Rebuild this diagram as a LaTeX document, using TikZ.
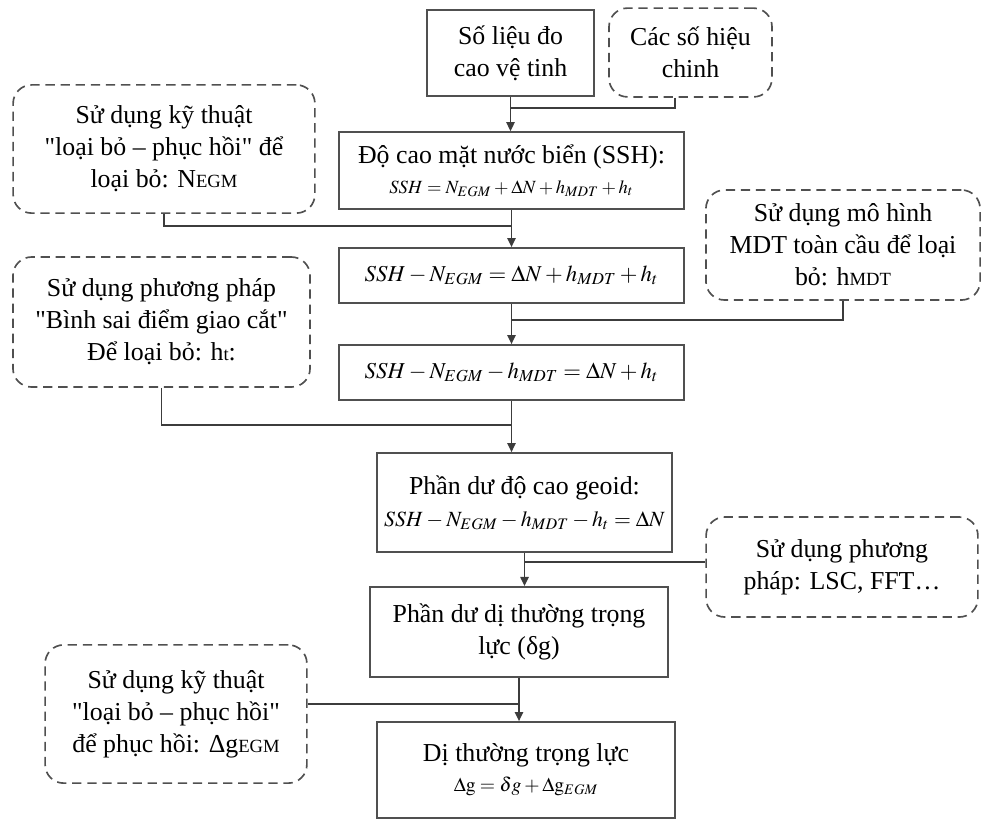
\documentclass[tikz,border=0pt]{standalone}
\usepackage{mathptmx}
\usepackage{fontspec}
\setmainfont{Liberation Serif}[Ligatures=TeXOff]
\usetikzlibrary{arrows.meta,positioning,calc}
\definecolor{lineg}{RGB}{60,60,60}
\definecolor{boxg}{RGB}{80,80,80}
\tikzset{
  procbox/.style={draw=boxg, line width=0.7pt, align=center, inner sep=2pt,
                  font=\fontsize{12.5}{15.5}\selectfont},
  notebox/.style={draw=boxg, line width=0.8pt, dash pattern=on 4.5pt off 2.8pt,
                  rounded corners=9pt, align=center, inner sep=2pt,
                  font=\fontsize{12.5}{15.5}\selectfont},
  link/.style={draw=lineg, line width=0.8pt},
  flow/.style={link, -{Triangle[length=4.4pt,width=4pt]}},
}
\newcommand{\smallsub}[1]{{\fontsize{9}{10}\selectfont #1}}
\newcommand{\eqsize}[2]{{\fontsize{#1}{#1}\selectfont #2}}

\begin{document}
\begin{tikzpicture}[x=0.017cm, y=-0.017cm]
  \useasboundingbox (0,0) rectangle (982,820);
  % main column
  \node[procbox, minimum width=2.84cm, minimum height=1.46cm] (obs) at (510.5,53)
    {Số liệu đo\\cao vệ tinh};
  \node[procbox, minimum width=5.87cm, minimum height=1.31cm] (ssh) at (511.5,170.5)
    {Độ cao mặt nước biển (SSH):\\[-1pt]
     \eqsize{9}{$SSH = N_{EGM} + \Delta N + h_{MDT} + h_t$}};
  \node[procbox, minimum width=5.87cm, minimum height=0.94cm] (resA) at (511.5,275.5)
    {\eqsize{11}{$SSH - N_{EGM} = \Delta N + h_{MDT} + h_t$}};
  \node[procbox, minimum width=5.87cm, minimum height=0.94cm] (resB) at (511.5,372.5)
    {\eqsize{11}{$SSH - N_{EGM} - h_{MDT} = \Delta N + h_t$}};
  \node[procbox, line width=0.9pt, minimum width=5.02cm, minimum height=1.68cm] (geoid) at (524.5,502.5)
    {Phần dư độ cao geoid:\\
     \eqsize{10.5}{$SSH - N_{EGM} - h_{MDT} - h_t = \Delta N$}};
  \node[procbox, line width=0.9pt, minimum width=5.07cm, minimum height=1.53cm] (dgres) at (519,632)
    {Phần dư dị thường trọng\\lực (δg)};
  \node[procbox, line width=0.9pt, minimum width=5.07cm, minimum height=1.63cm] (grav) at (526,770)
    {Dị thường trọng lực\\[-1pt]
     \eqsize{9.5}{$\Delta\mathrm{g} = \delta g + \Delta\mathrm{g}_{EGM}$}};

  % side notes
  \node[notebox, minimum width=2.77cm, minimum height=1.51cm] (corr) at (690.5,52.5)
    {Các số hiệu\\chinh};
  \node[notebox, minimum width=5.13cm, minimum height=2.18cm] (noteN) at (164,149)
    {Sử dụng kỹ thuật\\"loại bỏ – phục hồi" để\\loại bỏ: N\smallsub{EGM}};
  \node[notebox, minimum width=4.66cm, minimum height=1.87cm] (noteMDT) at (843,245)
    {Sử dụng mô hình\\MDT toàn cầu để loại\\bỏ: h\smallsub{MDT}};
  \node[notebox, minimum width=5.05cm, minimum height=2.21cm] (noteHt) at (161.5,322)
    {Sử dụng phương pháp\\"Bình sai điểm giao cắt"\\Để loại bỏ: h\smallsub{t}:};
  \node[notebox, minimum width=4.62cm, minimum height=1.7cm] (noteLSC) at (842,567)
    {Sử dụng phương\\pháp: LSC, FFT…};
  \node[notebox, minimum width=4.45cm, minimum height=2.35cm] (noteRest) at (176,714)
    {Sử dụng kỹ thuật\\"loại bỏ – phục hồi"\\để phục hồi: Δg\smallsub{EGM}};

  % connectors
  \coordinate (j1) at ($(obs.south)!0.33!(obs.south |- ssh.north)$);
  \draw[link] ([xshift=-0.26cm]corr.south) |- (j1);
  \draw[flow] (obs.south) -- (obs.south |- ssh.north);
  \draw[flow] (ssh.south) -- (ssh.south |- resA.north);
  \draw[link] (noteN.south) |- ($(ssh.south)!0.44!(ssh.south |- resA.north)$);
  \draw[flow] (resA.south) -- (resA.south |- resB.north);
  \draw[link] (noteMDT.south) |- ($(resA.south)!0.4!(resA.south |- resB.north)$);
  \draw[flow] (resB.south) -- (resB.south |- geoid.north);
  \draw[link] (noteHt.south) |- ($(resB.south)!0.47!(resB.south |- geoid.north)$);
  \draw[flow] (geoid.south) -- (geoid.south |- dgres.north);
  \draw[link] ([yshift=0.08cm]noteLSC.west) -- ([yshift=0.08cm]noteLSC.west -| geoid.south);
  \draw[flow] (dgres.south) -- (dgres.south |- grav.north);
  \draw[link] ([yshift=0.17cm]noteRest.east) -- ([yshift=0.17cm]noteRest.east -| dgres.south);
\end{tikzpicture}
\end{document}
